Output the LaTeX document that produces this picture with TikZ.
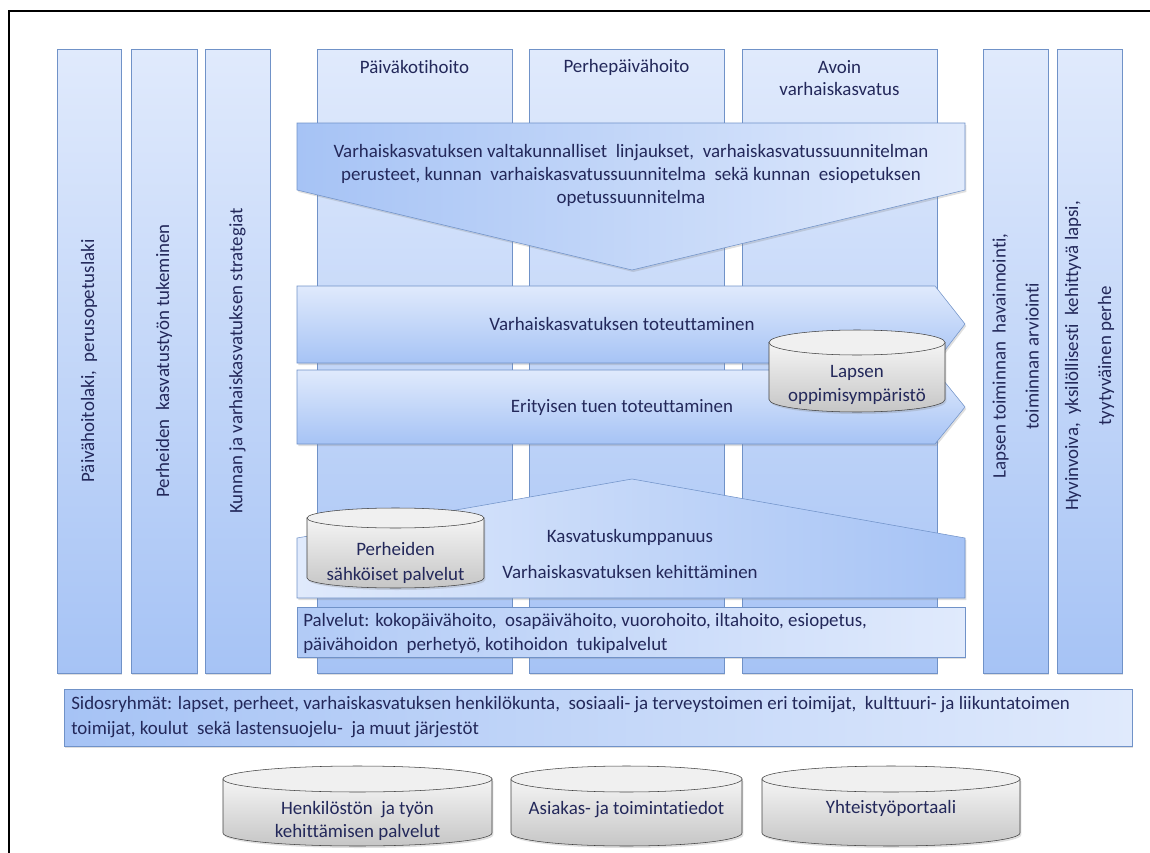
\documentclass[tikz,border=0pt]{standalone}
\usepackage{fontspec}
\setmainfont{Carlito}[Ligatures=CommonOff]
\usetikzlibrary{shadows}
\definecolor{bordc}{RGB}{112,146,200}
\definecolor{bluelt}{RGB}{224,234,252}
\definecolor{bluedk}{RGB}{166,195,245}
\definecolor{txtc}{RGB}{35,40,90}
\begin{document}
\begin{tikzpicture}[x=0.75pt,y=-0.75pt]
        \tikzstyle{shd}=[drop shadow={opacity=0.25, shadow xshift=1pt, shadow yshift=-1.5pt}];
        \tikzstyle{col}=[draw=bordc, top color=bluelt, bottom color=bluedk, shd];
        \tikzstyle{band}=[draw=bordc, top color=bluelt, bottom color=bluedk, shd];
        \tikzstyle{lbl}=[text=txtc, inner sep=0pt, align=center, font=\fontsize{14.2}{17.25}\selectfont];
        \tikzstyle{cylbody}=[draw=black!75, top color=gray!8, bottom color=gray!45, shd];
        \tikzstyle{cyltop}=[draw=black!75, fill=gray!12];

        \useasboundingbox (0,0) rectangle (1150,853);
        \draw[line width=1.5pt] (9,853) -- (9,11) -- (1150,11);

        \foreach \xa/\xb in {57/121, 131/197, 205/270, 317/512, 529/724, 742/937, 983/1048, 1057/1122}
            \draw[col] (\xa,49) rectangle (\xb,673);

        \node[lbl, rotate=90] (laki) at (89,361) {Päivähoitolaki,\ \ perusopetuslaki};
        \node[lbl, rotate=90] (tuki) at (164,361) {Perheiden\ \ kasvatustyön tukeminen};
        \node[lbl, rotate=90] (strat) at (237.5,361) {Kunnan ja varhaiskasvatuksen strategiat};
        \node[lbl, rotate=90, font=\fontsize{14.2}{24.75}\selectfont] (arvio) at (1015.5,356) {Lapsen toiminnan\ \ havainnointi,\\toiminnan arviointi};
        \node[lbl, rotate=90, font=\fontsize{14.2}{24.75}\selectfont] (perhe) at (1089.5,356) {Hyvinvoiva,\ \ yksilöllisesti\ \ kehittyvä lapsi,\\tyytyväinen perhe};

        \node[lbl] (pkh) at (414.5,67) {Päiväkotihoito};
        \node[lbl] (php) at (626.5,67) {Perhepäivähoito};
        \node[lbl, font=\fontsize{14.2}{16.5}\selectfont] (avoin) at (839.5,78) {Avoin\\varhaiskasvatus};

        \draw[draw=bordc, left color=bluedk, right color=bluelt, shd] (297,123) -- (965,123) -- (965,190) -- (632,270) -- (297,190) -- cycle;
        \node[lbl] (linj) at (631,175) {Varhaiskasvatuksen valtakunnalliset\ \ linjaukset,\ \ varhaiskasvatussuunnitelman\\perusteet, kunnan\ \ varhaiskasvatussuunnitelma\ \ sekä kunnan\ \ esiopetuksen\\opetussuunnitelma};

        \draw[band] (297,286) -- (935,286) -- (965,324) -- (935,363) -- (297,363) -- cycle;
        \node[lbl] (tot) at (622,324) {Varhaiskasvatuksen toteuttaminen};
        \draw[band] (297,370) -- (935,370) -- (965,407) -- (935,444) -- (297,444) -- cycle;
        \node[lbl] (tuen) at (622,408) {Erityisen tuen toteuttaminen};

        \draw[cylbody] (769,342.5) -- (769,399.5) arc[start angle=180, end angle=0, x radius=88, y radius=12.5] -- (945,342.5) -- cycle;
        \draw[cyltop] (857,342.5) ellipse [x radius=88, y radius=12.5];
        \node[lbl, font=\fontsize{14.2}{18}\selectfont] (ymp) at (857,385) {Lapsen\\oppimisympäristö};

        \draw[draw=bordc, left color=bluelt, right color=bluedk, shd] (297,598) -- (297,538) -- (632,479) -- (965,538) -- (965,598) -- cycle;
        \node[lbl] (kump) at (630,537) {Kasvatuskumppanuus};
        \node[lbl] (keh) at (630,572) {Varhaiskasvatuksen kehittäminen};

        \draw[cylbody] (307,518) -- (307,578) arc[start angle=180, end angle=0, x radius=88.5, y radius=10] -- (484,518) -- cycle;
        \draw[cyltop] (395.5,518) ellipse [x radius=88.5, y radius=10];
        \node[lbl, font=\fontsize{14.2}{18.75}\selectfont] (sahk) at (395.5,563) {Perheiden\\sähköiset palvelut};

        \draw[draw=bordc, left color=bluedk!80!bluelt, right color=bluelt, shd] (297,607) rectangle (965,657);
        \node[lbl, anchor=west, align=left, font=\fontsize{14.2}{18}\selectfont] (palv) at (303,633) {Palvelut: kokopäivähoito,\ \ osapäivähoito,\ vuorohoito,\ iltahoito, esiopetus,\\päivähoidon\ \ perhetyö, kotihoidon\ \ tukipalvelut};

        \draw[draw=bordc, left color=bluedk, right color=bluelt, shd] (64,689) rectangle (1132,746);
        \node[lbl, anchor=west, align=left, font=\fontsize{14.2}{18.75}\selectfont] (sido) at (71,717.5) {Sidosryhmät: lapset, perheet, varhaiskasvatuksen henkilökunta,\ \ sosiaali- ja terveystoimen eri toimijat,\ \ kulttuuri- ja liikuntatoimen\\toimijat, koulut\ \ sekä lastensuojelu-\ \ ja muut järjestöt};

        \draw[cylbody] (223,779) -- (223,833) arc[start angle=180, end angle=0, x radius=134.5, y radius=13] -- (492,779) -- cycle;
        \draw[cyltop] (357.5,779) ellipse [x radius=134.5, y radius=13];
        \node[lbl, font=\fontsize{14.2}{17.25}\selectfont] (henk) at (357.5,820.5) {Henkilöstön\ \ ja työn\\kehittämisen palvelut};

        \draw[cylbody] (511,779) -- (511,833) arc[start angle=180, end angle=0, x radius=115.5, y radius=13] -- (742,779) -- cycle;
        \draw[cyltop] (626.5,779) ellipse [x radius=115.5, y radius=13];
        \node[lbl] (asia) at (626.5,810) {Asiakas- ja toimintatiedot};

        \draw[cylbody] (762,779) -- (762,833) arc[start angle=180, end angle=0, x radius=129, y radius=13] -- (1020,779) -- cycle;
        \draw[cyltop] (891,779) ellipse [x radius=129, y radius=13];
        \node[lbl] (port) at (891,808) {Yhteistyöportaali};
\end{tikzpicture}
\end{document}
